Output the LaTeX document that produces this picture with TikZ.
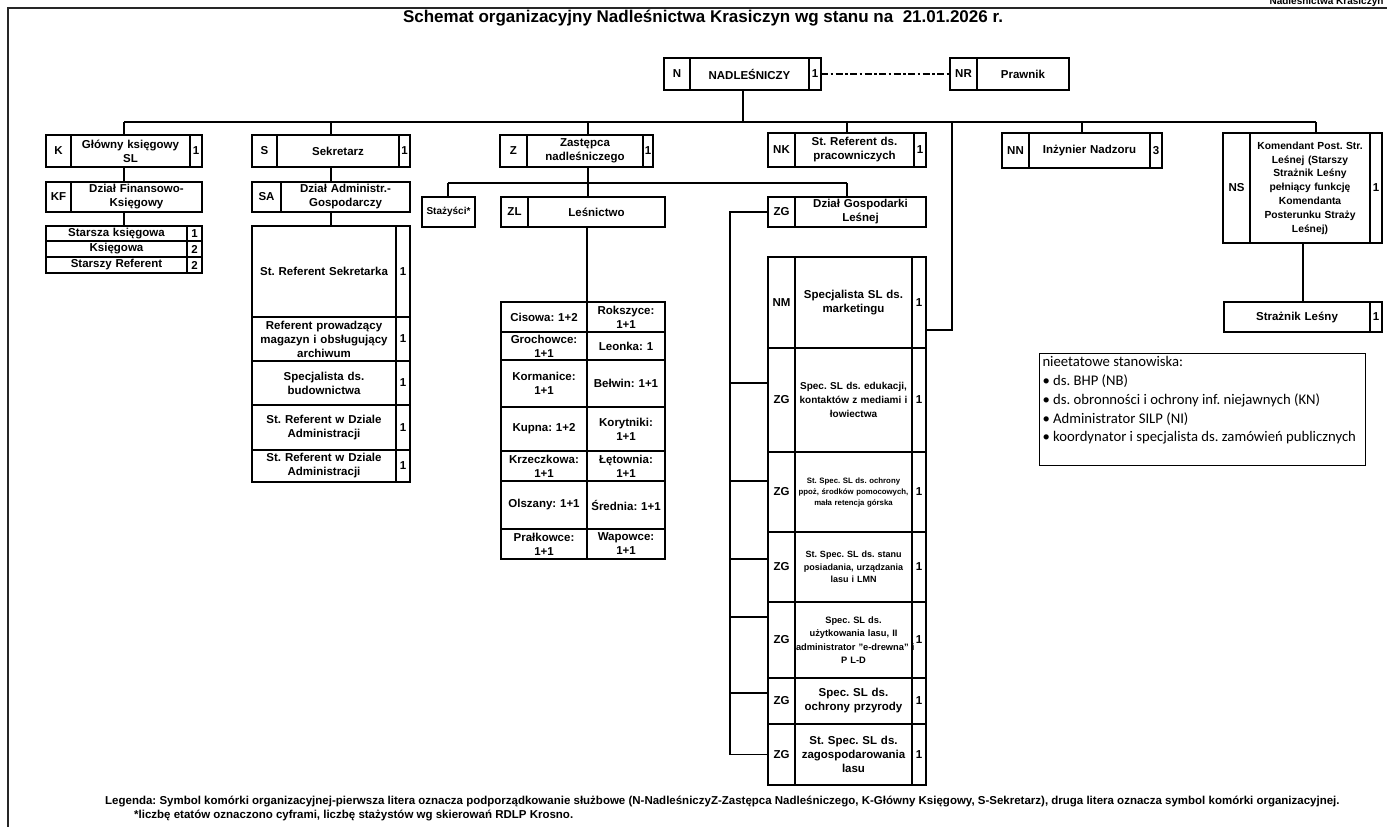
\documentclass[tikz,border=0pt]{standalone}
\usepackage{fontspec}
\setmainfont{Liberation Sans}
\newfontfamily\calfont{Carlito}
\usetikzlibrary{positioning}
\newcommand{\cellfont}{\bfseries\fontsize{11.5}{14}\selectfont}
\frenchspacing

\begin{document}
\begin{tikzpicture}[x=1pt, y=-1pt]
% Define styles
\tikzstyle{orgcell} = [draw, line width=2pt, anchor=north west, inner sep=1pt, outer sep=0pt, align=center, font=\cellfont]
\tikzstyle{conn} = [line width=1.7pt]
\tikzstyle{advisory} = [line width=2.2pt, dash pattern=on 7pt off 2.5pt on 2.5pt off 2.5pt]
\tikzstyle{pageframe} = [line width=1.5pt, black!85]

\useasboundingbox (0,0) rectangle (1387,827);
\draw[pageframe] (8,827) -- (8,8) -- (1387,8);

% Titles
\node (hdr) [anchor=base west, font=\bfseries\fontsize{10}{10}\selectfont] at (1266,4.5) {Nadleśnictwa Krasiczyn};
\node (title) [font=\bfseries\fontsize{17}{17}\selectfont] at (703,18) {Schemat organizacyjny Nadleśnictwa Krasiczyn wg stanu na\ \ 21.01.2026 r.};

% Nadlesniczy and Prawnik
\node (nadc) [orgcell, minimum width=26pt, minimum height=32pt] at (664,58) {N};
\node (nadn) [orgcell, right=0pt of nadc, text width=117pt, minimum height=32pt] {NADLEŚNICZY};
\node (nad1) [orgcell, right=0pt of nadn, minimum width=12pt, minimum height=32pt] {1};
\node (nrc) [orgcell, minimum width=27pt, minimum height=32pt] at (950,58) {NR};
\node (nrn) [orgcell, right=0pt of nrc, text width=90pt, minimum height=32pt] {Prawnik};

% First level
\node (kc) [orgcell, minimum width=25pt, minimum height=32pt] at (46,135) {K};
\node (kn) [orgcell, right=0pt of kc, text width=117pt, minimum height=32pt] {Główny księgowy\\SL};
\node (k1) [orgcell, right=0pt of kn, minimum width=12pt, minimum height=32pt] {1};
\node (sc) [orgcell, minimum width=25pt, minimum height=32pt] at (252,135) {S};
\node (sn) [orgcell, right=0pt of sc, text width=120pt, minimum height=32pt] {Sekretarz};
\node (s1) [orgcell, right=0pt of sn, minimum width=11pt, minimum height=32pt] {1};
\node (zc) [orgcell, minimum width=27pt, minimum height=32pt] at (500,135) {Z};
\node (zn) [orgcell, right=0pt of zc, text width=114pt, minimum height=32pt] {Zastępca\\nadleśniczego};
\node (z1) [orgcell, right=0pt of zn, minimum width=10pt, minimum height=32pt] {1};
\node (nkc) [orgcell, minimum width=27pt, minimum height=34pt] at (768,133) {NK};
\node (nkn) [orgcell, right=0pt of nkc, text width=117pt, minimum height=34pt] {St. Referent ds.\\pracowniczych};
\node (nk1) [orgcell, right=0pt of nkn, minimum width=12pt, minimum height=34pt] {1};
\node (nnc) [orgcell, minimum width=27pt, minimum height=35pt] at (1002,133) {NN};
\node (nnn) [orgcell, right=0pt of nnc, text width=119pt, minimum height=35pt] {Inżynier Nadzoru};
\node (nn1) [orgcell, right=0pt of nnn, minimum width=12pt, minimum height=35pt] {3};
\node (nsc) [orgcell, minimum width=27pt, minimum height=110pt] at (1223,133) {NS};
\node (nsn) [orgcell, right=0pt of nsc, text width=118pt, minimum height=110pt, font=\bfseries\fontsize{10.3}{13.8}\selectfont] {Komendant Post. Str.\\Leśnej (Starszy\\Strażnik Leśny\\pełniący funkcję\\Komendanta\\Posterunku Straży\\Leśnej)};
\node (ns1) [orgcell, right=0pt of nsn, minimum width=12pt, minimum height=110pt] {1};
\node (sln) [orgcell, text width=144pt, minimum height=30pt] at (1224,302) {Strażnik Leśny};
\node (sl1) [orgcell, right=0pt of sln, minimum width=12pt, minimum height=30pt] {1};

% Ksiegowosc
\node (kfc) [orgcell, minimum width=25pt, minimum height=30pt] at (46,182) {KF};
\node (kfn) [orgcell, right=0pt of kfc, text width=129pt, minimum height=30pt] {Dział Finansowo-\\Księgowy};
\node (kl1) [orgcell, text width=139pt, minimum height=15pt] at (46,226) {Starsza księgowa};
\node (kl1k) [orgcell, right=0pt of kl1, minimum width=15pt, minimum height=15pt] {1};
\node (kl2) [orgcell, below=0pt of kl1, text width=139pt, minimum height=16pt] {Księgowa};
\node (kl2k) [orgcell, right=0pt of kl2, minimum width=15pt, minimum height=16pt] {2};
\node (kl3) [orgcell, below=0pt of kl2, text width=139pt, minimum height=16pt] {Starszy Referent};
\node (kl3k) [orgcell, right=0pt of kl3, minimum width=15pt, minimum height=16pt] {2};

% Sekretariat
\node (sac) [orgcell, minimum width=29pt, minimum height=30pt] at (252,182) {SA};
\node (san) [orgcell, right=0pt of sac, text width=127pt, minimum height=30pt] {Dział Administr.-\\Gospodarczy};
\node (al1) [orgcell, text width=142pt, minimum height=91pt] at (252,226) {St. Referent Sekretarka};
\node (al1k) [orgcell, right=0pt of al1, minimum width=14pt, minimum height=91pt] {1};
\node (al2) [orgcell, below=0pt of al1, text width=142pt, minimum height=44pt] {Referent prowadzący\\magazyn i obsługujący\\archiwum};
\node (al2k) [orgcell, right=0pt of al2, minimum width=14pt, minimum height=44pt] {1};
\node (al3) [orgcell, below=0pt of al2, text width=142pt, minimum height=44pt] {Specjalista ds.\\budownictwa};
\node (al3k) [orgcell, right=0pt of al3, minimum width=14pt, minimum height=44pt] {1};
\node (al4) [orgcell, below=0pt of al3, text width=142pt, minimum height=45pt] {St. Referent w Dziale\\Administracji};
\node (al4k) [orgcell, right=0pt of al4, minimum width=14pt, minimum height=45pt] {1};
\node (al5) [orgcell, below=0pt of al4, text width=142pt, minimum height=32pt] {St. Referent w Dziale\\Administracji};
\node (al5k) [orgcell, right=0pt of al5, minimum width=14pt, minimum height=32pt] {1};

% Zastepca: stazysci, lesnictwa
\node (stz) [orgcell, line width=2.6pt, minimum width=53pt, minimum height=30pt, font=\bfseries\fontsize{10}{12}\selectfont] at (422,197) {Stażyści*};
\node (zlc) [orgcell, minimum width=27pt, minimum height=30pt] at (501,197) {ZL};
\node (zln) [orgcell, right=0pt of zlc, text width=135pt, minimum height=30pt] {Leśnictwo};
\node (la1) [orgcell, text width=84pt, minimum height=30pt] at (501,302) {Cisowa: 1+2};
\node (lb1) [orgcell, right=0pt of la1, text width=76pt, minimum height=30pt] {Rokszyce:\\1+1};
\node (la2) [orgcell, below=0pt of la1, text width=84pt, minimum height=28pt] {Grochowce:\\1+1};
\node (lb2) [orgcell, right=0pt of la2, text width=76pt, minimum height=28pt] {Leonka: 1};
\node (la3) [orgcell, below=0pt of la2, text width=84pt, minimum height=47pt] {Kormanice:\\1+1};
\node (lb3) [orgcell, right=0pt of la3, text width=76pt, minimum height=47pt] {Bełwin: 1+1};
\node (la4) [orgcell, below=0pt of la3, text width=84pt, minimum height=44pt] {Kupna: 1+2};
\node (lb4) [orgcell, right=0pt of la4, text width=76pt, minimum height=44pt] {Korytniki:\\1+1};
\node (la5) [orgcell, below=0pt of la4, text width=84pt, minimum height=30pt] {Krzeczkowa:\\1+1};
\node (lb5) [orgcell, right=0pt of la5, text width=76pt, minimum height=30pt] {Łętownia:\\1+1};
\node (la6) [orgcell, below=0pt of la5, text width=84pt, minimum height=48pt] {Olszany: 1+1};
\node (lb6) [orgcell, right=0pt of la6, text width=76pt, minimum height=48pt] {Średnia: 1+1};
\node (la7) [orgcell, below=0pt of la6, text width=84pt, minimum height=30pt] {Prałkowce:\\1+1};
\node (lb7) [orgcell, right=0pt of la7, text width=76pt, minimum height=30pt] {Wapowce:\\1+1};

% Gospodarka lesna
\node (zgc) [orgcell, minimum width=27pt, minimum height=30pt] at (768,197) {ZG};
\node (zgn) [orgcell, right=0pt of zgc, text width=129pt, minimum height=30pt] {Dział Gospodarki\\Leśnej};
\node (g1c) [orgcell, minimum width=27pt, minimum height=91pt] at (768,257) {NM};
\node (g1n) [orgcell, right=0pt of g1c, text width=115pt, minimum height=91pt] {Specjalista SL ds.\\marketingu};
\node (g1k) [orgcell, right=0pt of g1n, minimum width=14pt, minimum height=91pt] {1};
\node (g2c) [orgcell, below=0pt of g1c, minimum width=27pt, minimum height=104pt] {ZG};
\node (g2n) [orgcell, right=0pt of g2c, text width=115pt, minimum height=104pt, font=\bfseries\fontsize{10}{14}\selectfont] {Spec. SL ds. edukacji,\\kontaktów z mediami i\\łowiectwa};
\node (g2k) [orgcell, right=0pt of g2n, minimum width=14pt, minimum height=104pt] {1};
\node (g3c) [orgcell, below=0pt of g2c, minimum width=27pt, minimum height=80pt] {ZG};
\node (g3n) [orgcell, right=0pt of g3c, text width=115pt, minimum height=80pt, font=\bfseries\fontsize{7.8}{11}\selectfont] {St. Spec. SL ds. ochrony\\ppoż, środków pomocowych,\\mała retencja górska};
\node (g3k) [orgcell, right=0pt of g3n, minimum width=14pt, minimum height=80pt] {1};
\node (g4c) [orgcell, below=0pt of g3c, minimum width=27pt, minimum height=70pt] {ZG};
\node (g4n) [orgcell, right=0pt of g4c, text width=115pt, minimum height=70pt, font=\bfseries\fontsize{9}{12.5}\selectfont] {St. Spec. SL ds. stanu\\posiadania, urządzania\\lasu i LMN};
\node (g4k) [orgcell, right=0pt of g4n, minimum width=14pt, minimum height=70pt] {1};
\node (g5c) [orgcell, below=0pt of g4c, minimum width=27pt, minimum height=76pt] {ZG};
\node (g5n) [orgcell, right=0pt of g5c, text width=115pt, minimum height=76pt, font=\bfseries\fontsize{9.3}{13.5}\selectfont] {Spec. SL ds.\\użytkowania lasu, II\\\mbox{administrator "e-drewna" i}\\P L-D};
\node (g5k) [orgcell, right=0pt of g5n, minimum width=14pt, minimum height=76pt] {1};
\node (g6c) [orgcell, below=0pt of g5c, minimum width=27pt, minimum height=46pt] {ZG};
\node (g6n) [orgcell, right=0pt of g6c, text width=115pt, minimum height=46pt] {Spec. SL ds.\\ochrony przyrody};
\node (g6k) [orgcell, right=0pt of g6n, minimum width=14pt, minimum height=46pt] {1};
\node (g7c) [orgcell, below=0pt of g6c, minimum width=27pt, minimum height=61pt] {ZG};
\node (g7n) [orgcell, right=0pt of g7c, text width=115pt, minimum height=61pt] {St. Spec. SL ds.\\zagospodarowania\\lasu};
\node (g7k) [orgcell, right=0pt of g7n, minimum width=14pt, minimum height=61pt] {1};

% Nieetatowe
\node (extra) [draw, line width=1pt, anchor=north west, inner sep=2pt, minimum width=326pt, minimum height=112pt] at (1039,353) {\parbox[t][106pt][t]{320pt}{\calfont\fontsize{14.7}{18.8}\selectfont nieetatowe stanowiska:\\
• ds. BHP (NB)\\
• ds. obronności i ochrony inf. niejawnych (KN)\\
• Administrator SILP (NI)\\
• koordynator i specjalista ds. zamówień publicznych}};

% Legend
\node (leg1) [anchor=west, inner sep=0pt, font=\bfseries\fontsize{11.5}{12}\selectfont] at (105,801) {Legenda: Symbol komórki organizacyjnej-pierwsza litera oznacza podporządkowanie służbowe (N-NadleśniczyZ-Zastępca Nadleśniczego, K-Główny Księgowy, S-Sekretarz), druga litera oznacza symbol komórki organizacyjnej.};
\node (leg2) [anchor=west, inner sep=0pt, font=\bfseries\fontsize{11.5}{12}\selectfont] at (134,815) {*liczbę etatów oznaczono cyframi, liczbę stażystów wg skierowań RDLP Krosno.};

% Bus coordinates
\coordinate (bN) at (743,122);
\coordinate (bK) at (124,122);
\coordinate (bS) at (331,122);
\coordinate (bZ) at (588,122);
\coordinate (bNK) at (847,122);
\coordinate (bL) at (952,122);
\coordinate (bNN) at (1082,122);
\coordinate (bNS) at (1316,122);
\coordinate (bLe) at (952,330);
\coordinate (sZ) at (588,183);
\coordinate (sST) at (448,183);
\coordinate (sZG) at (847,183);
\coordinate (gL) at (730,212);
\coordinate (gB2) at (730,383);
\coordinate (gB3) at (730,481);
\coordinate (gB4) at (730,559);
\coordinate (gB5) at (730,617);
\coordinate (gB6) at (730,693);
\coordinate (dNS) at (1303,243);

% Draw connectors
\draw [advisory] (nad1.east) -- (nrc.west);
\draw [conn] (bN |- nadn.south) -- (bN);
\draw [conn] (bK) -- (bNS);
\draw [conn] (bK) -- (bK |- kc.north);
\draw [conn] (bS) -- (bS |- sc.north);
\draw [conn] (bZ) -- (bZ |- zc.north);
\draw [conn] (bNK) -- (bNK |- nkc.north);
\draw [conn] (bNN) -- (bNN |- nnc.north);
\draw [conn] (bNS) -- (bNS |- nsc.north);
\draw [conn] (bL) -- (bLe) -- (bLe -| g1k.east);
\draw [conn] (bK |- kc.south) -- (bK |- kfc.north);
\draw [conn] (bK |- kfc.south) -- (bK |- kl1.north);
\draw [conn] (bS |- sc.south) -- (bS |- sac.north);
\draw [conn] (bS |- sac.south) -- (bS |- al1.north);
\draw [conn] (sZ |- zc.south) -- (sZ |- zln.north);
\draw [conn] (sST) -- (sZG);
\draw [conn] (sST) -- (sST |- stz.north);
\draw [conn] (sZG) -- (sZG |- zgn.north);
\draw [conn] (la1.north east |- zln.south) -- (la1.north east);
\draw [conn] (zgc.west) -- (gL) -- (gL |- g7c.west) -- (g7c.west);
\draw [conn] (gB2) -- (gB2 -| g2c.west);
\draw [conn] (gB3) -- (gB3 -| g3c.west);
\draw [conn] (gB4) -- (gB4 -| g4c.west);
\draw [conn] (gB5) -- (gB5 -| g5c.west);
\draw [conn] (gB6) -- (gB6 -| g6c.west);
\draw [conn] (dNS |- nsn.south) -- (dNS |- sln.north);
\end{tikzpicture}
\end{document}
